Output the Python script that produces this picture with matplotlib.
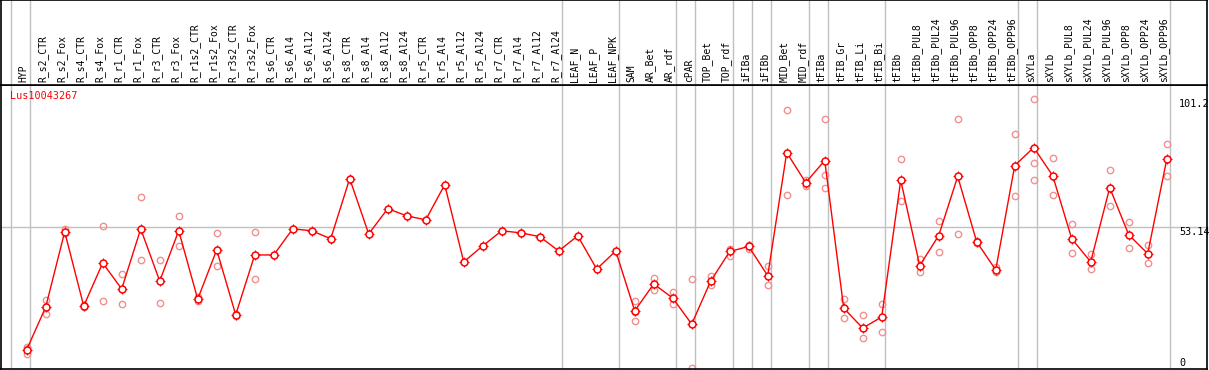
import numpy as np
import matplotlib
matplotlib.use("Agg")
import matplotlib.pyplot as plt

# sample names (header)
samples = ["HYP", "R_s2_CTR", "R_s2_Fox", "R_s4_CTR", "R_s4_Fox", "R_r1_CTR", "R_r1_Fox",
           "R_r3_CTR", "R_r3_Fox", "R_r1s2_CTR", "R_r1s2_Fox", "R_r3s2_CTR", "R_r3s2_Fox",
           "R_s6_CTR", "R_s6_Al4", "R_s6_Al12", "R_s6_Al24", "R_s8_CTR", "R_s8_Al4",
           "R_s8_Al12", "R_s8_Al24", "R_r5_CTR", "R_r5_Al4", "R_r5_Al12", "R_r5_Al24",
           "R_r7_CTR", "R_r7_Al4", "R_r7_Al12", "R_r7_Al24", "LEAF_N", "LEAF_P", "LEAF_NPK",
           "SAM", "AR_Bet", "AR_rdf", "cPAR", "TOP_Bet", "TOP_rdf", "iFIBa", "iFIBb",
           "MID_Bet", "MID_rdf", "tFIBa", "tFIB_Gr", "tFIB_Li", "tFIB_Bi", "tFIBb",
           "tFIBb_PUL8", "tFIBb_PUL24", "tFIBb_PUL96", "tFIBb_OPP8", "tFIBb_OPP24",
           "tFIBb_OPP96", "sXYLa", "sXYLb", "sXYLb_PUL8", "sXYLb_PUL24", "sXYLb_PUL96",
           "sXYLb_OPP8", "sXYLb_OPP24", "sXYLb_OPP96"]

# mean expression
means = [6.9, 22.9, 51.2, 23.3, 39.5, 29.7, 52.3, 32.7, 51.6, 25.9, 44.4, 20.0, 42.5,
         42.5, 52.3, 51.6, 48.6, 71.2, 50.4, 59.9, 57.2, 55.7, 68.9, 39.9, 45.9,
         51.6, 50.8, 49.4, 44.0, 49.7, 37.2, 44.0, 21.5, 31.6, 26.3, 16.5, 32.7,
         43.8, 45.7, 34.7, 81.0, 69.7, 78.0, 22.5, 15.0, 19.2, 70.6, 38.5, 49.8,
         72.0, 47.4, 36.9, 76.1, 82.9, 72.3, 48.6, 39.9, 67.8, 50.1, 43.0, 78.4]

# replicate values (empty where none shown)
reps = [[7.8, 5.2, 7.2], [25.4, 20.4], [52.1, 50.8], [23.8, 22.8], [53.5, 25.3],
        [35.4, 24.2], [64.4, 40.6], [40.6, 24.5], [57.2, 45.7], [26.6, 25.1],
        [50.8, 38.4], [20.4, 19.6], [51.2, 33.5],
        [], [], [], [], [], [], [], [], [], [], [], [], [], [], [], [], [], [], [],
        [25.2, 17.6, 21.0], [33.8, 29.2], [28.4, 24.0], [33.5, 0.0], [34.5, 31.3],
        [44.6, 42.2], [46.2, 44.6], [38.2, 31.1], [96.9, 65.2], [70.8, 68.5],
        [93.8, 72.7, 67.8], [25.9, 18.8], [19.9, 11.2], [24.0, 13.5], [78.4, 62.9],
        [40.8, 36.1], [55.3, 43.7], [93.5, 50.4], [47.9, 47.0], [37.8, 36.0],
        [87.8, 64.5], [101.2, 76.9, 70.6], [79.1, 65.2], [54.2, 43.4], [42.9, 37.2],
        [74.6, 61.0], [55.0, 45.2], [46.4, 39.5], [84.4, 72.3]]

# last sample of each group (gray separators)
group_ends = [-1, 0, 28, 31, 34, 35, 37, 38, 39, 41, 42, 45, 52, 53, 60]
ref_value = 53.14
y_labels = ["101.2", "53.14", "0"]
gene = "Lus10043267"

plt.rcParams["font.family"] = "DejaVu Sans Mono"

W, H = 1209, 370
fig = plt.figure(figsize=(W / 100, H / 100), dpi=100)
ax = fig.add_axes([1 / W, 1 / H, 1206 / W, 284 / H])
hx = fig.add_axes([1 / W, 285 / H, 1206 / W, 85 / H], sharex=ax)

x = np.arange(len(samples))
ax.set_xlim(-1.353, 62.12)
ax.set_ylim(-0.38, 106.4)

for e in group_ends:
    ax.axvline(e + 0.19, color="#c0c0c0", lw=1, zorder=0)
    hx.axvline(e + 0.19, color="#c0c0c0", lw=1, zorder=0)
ax.axhline(ref_value, color="#c0c0c0", lw=1, zorder=0)

rx = [i for i, r in enumerate(reps) for _ in r]
ry = [v for r in reps for v in r]
ax.plot(rx, ry, "o", ms=4.6, mfc="none", mec="#f09090", mew=1.0, zorder=2)
ax.plot(x, means, "-", color="red", lw=1, zorder=3)
ax.plot(x, means, "+", ms=7.5, color="red", mew=0.8, zorder=4)
ax.plot(x, means, "o", ms=5, mfc="white", mec="red", mew=1.1, zorder=5)

ax.text(9 / 1206, 1 - 11 / 284, gene, transform=ax.transAxes, color="red",
        fontsize=7.3, va="center", ha="left")

# right side scale labels
for lab, yv in zip(y_labels, [101.2, ref_value, 0]):
    ax.text(1178 / 1206, yv, lab, transform=ax.get_yaxis_transform(), fontsize=7.3,
            va="top" if yv > 0 else "bottom", ha="left", color="black")

for i, s in enumerate(samples):
    hx.text(i - 0.16, 3 / 85, s, rotation=90, ha="center", va="bottom",
            fontsize=7, transform=hx.get_xaxis_transform())

for a in (ax, hx):
    a.set_xticks([])
    a.set_yticks([])
    for sp in a.spines.values():
        sp.set_color("black")
        sp.set_linewidth(1.2)
hx.set_ylim(0, 1)

fig.savefig("out.png", dpi=100)
